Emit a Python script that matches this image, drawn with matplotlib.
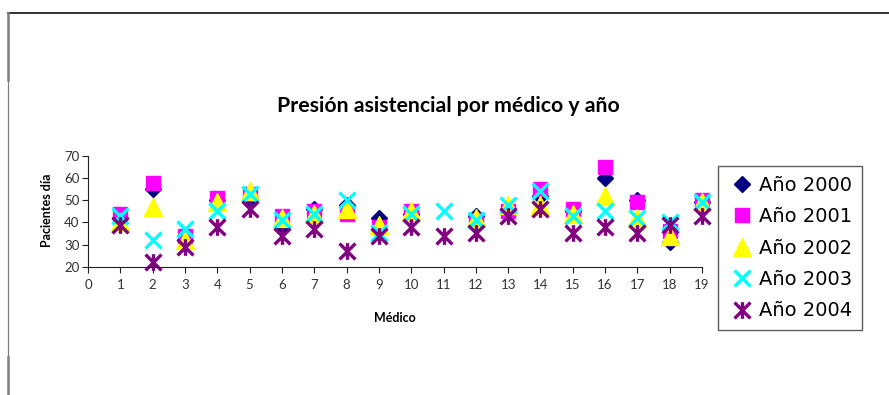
import numpy as np
import matplotlib.pyplot as plt
from matplotlib.path import Path
from matplotlib.lines import Line2D

# Pacientes por dia, medicos 1..19, un array por año (nan = sin dato)
medicos = np.arange(1, 20)
nan = np.nan
a2000 = [42, 55, 32, 50, 51, 38, 46, 48, 42, 44, nan, 43, 46, 52, 45, 60, 50, 31, 49]
a2001 = [44, 58, 34, 51, 53, 43, 45, 44, 38, 45, nan, 41, 45, 55, 46, 65, 49, 36, 50]
a2002 = [40, 47, 32, 49, 54, 42, 44, 46, 39, 45, nan, 42, 48, 48, 44, 52, 42, 34, 49]
a2003 = [43, 32, 37, 45, 53, 41, 44, 50, 35, 44, 45, 41, 48, 54, 43, 45, 42, 40, 49]
a2004 = [39, 22, 29, 38, 46, 34, 37, 27, 34, 38, 34, 35, 43, 46, 35, 38, 35, 39, 43]
etiquetas = ["Año 2000", "Año 2001", "Año 2002", "Año 2003", "Año 2004"]

# asterisco: una X con una linea vertical
ast = Path([(-1, -1), (1, 1), (-1, 1), (1, -1), (0, -1.05), (0, 1.05)],
           [Path.MOVETO, Path.LINETO, Path.MOVETO, Path.LINETO, Path.MOVETO, Path.LINETO])

estilos = [
    dict(marker="D", color="#000080", ms=8.5),
    dict(marker="s", color="#ff00ff", ms=10.5),
    dict(marker="^", color="#ffff00", ms=12.5),
    dict(marker="x", color="#00ffff", ms=11, mew=2.4),
    dict(marker=ast, color="#800080", ms=12, mew=2.4),
]

fig = plt.figure(figsize=(8.89, 3.95), dpi=100)
ax = fig.add_axes([0.099, 0.3248, 0.6907, 0.2803])

for serie, est, lab in zip([a2000, a2001, a2002, a2003, a2004], estilos, etiquetas):
    ax.plot(medicos, serie, linestyle="none", marker=est["marker"], ms=est["ms"],
            mfc=est["color"], mec=est["color"], mew=est.get("mew", 1),
            label=lab, clip_on=False)

ax.set_xlim(0, 19)
ax.set_ylim(20, 70)
ax.set_xticks(range(0, 20))
ax.set_yticks(range(20, 71, 10))
ax.spines["top"].set_visible(False)
ax.spines["right"].set_visible(False)
for s in ["left", "bottom"]:
    ax.spines[s].set_color("#222222")
ax.tick_params(direction="out", length=4, width=0.8, color="#222222")
ax.tick_params(axis="y", labelsize=9.5, pad=2, labelcolor="#333333")
ax.tick_params(axis="x", labelsize=9.5, pad=5, labelcolor="#333333")
for t in ax.get_xticklabels() + ax.get_yticklabels():
    t.set_family(["Lato", "DejaVu Sans"])

fig.text(0.504, 0.731, "Presión asistencial por médico y año", ha="center", va="center",
         fontsize=15.3, fontweight="bold", family=["Lato", "DejaVu Sans"])
fig.text(0.444, 0.195, "Médico", ha="center", va="center", fontsize=9,
         fontweight="bold", family=["Lato", "DejaVu Sans"])
fig.text(0.0525, 0.468, "Pacientes día", ha="center", va="center", rotation=90,
         fontsize=9, fontweight="bold", family=["Lato", "DejaVu Sans"])

leg = fig.legend(loc="upper left", bbox_to_anchor=(718 / 889, 1 - 166 / 395),
                 frameon=True, fancybox=False, fontsize=14, handlelength=1.5,
                 handletextpad=0.1, labelspacing=0.64, borderpad=0.5, borderaxespad=0)
leg.get_frame().set_edgecolor("#333333")
leg.get_frame().set_linewidth(1.0)

# marco de la hoja
fig.add_artist(Line2D([8 / 889, 1], [1 - 13 / 395] * 2, color="#111111", lw=1.2))
fig.add_artist(Line2D([7.5 / 889] * 2, [0, 1 - 13 / 395], color="#808080", lw=0.9))
fig.add_artist(Line2D([7.5 / 889] * 2, [1 - 80 / 395, 1 - 13 / 395], color="#808080", lw=1.8))
fig.add_artist(Line2D([7.5 / 889] * 2, [0, 1 - 357 / 395], color="#808080", lw=1.8))

fig.savefig("out.png", dpi=100)
